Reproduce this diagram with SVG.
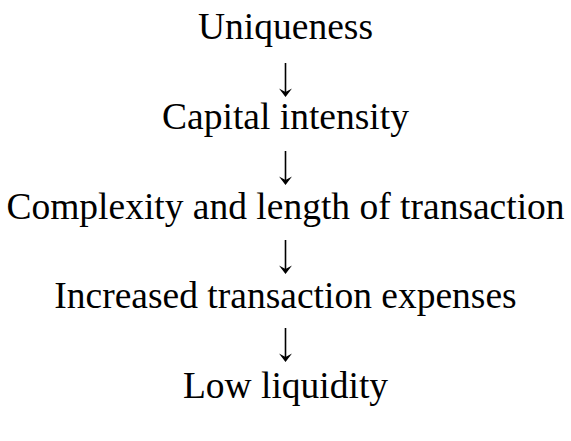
<svg xmlns="http://www.w3.org/2000/svg" width="571" height="441" viewBox="0 0 571 441">
  <style>
    text { font-family: "Liberation Serif", "Times New Roman", serif; font-size: 37.5px; fill: #000; text-anchor: middle; }
    .shaft { stroke: #000; stroke-width: 1.6; fill: none; }
    .head { fill: #000; stroke: none; }
  </style>
  <defs>
    <!-- downward arrow: thin shaft with a notched solid head, tip at (0,0) -->
    <g id="down-arrow">
      <line class="shaft" x1="0" y1="-34" x2="0" y2="-3"/>
      <path class="head" d="M0,0 L-6.5,-8.5 L0,-5 L6.5,-8.5 Z"/>
    </g>
  </defs>
  <rect width="571" height="441" fill="#fff"/>
  <g id="uniqueness"><text x="285.5" y="39">Uniqueness</text></g>
  <g id="capital-intensity"><text x="285.5" y="129">Capital intensity</text></g>
  <g id="complexity"><text x="285.5" y="219">Complexity and length of transaction</text></g>
  <g id="expenses"><text x="285.5" y="308">Increased transaction expenses</text></g>
  <g id="low-liquidity"><text x="285.5" y="398">Low liquidity</text></g>
  <g id="connectors">
    <use href="#down-arrow" x="285.5" y="97"/>
    <use href="#down-arrow" x="285.5" y="185"/>
    <use href="#down-arrow" x="285.5" y="274"/>
    <use href="#down-arrow" x="285.5" y="362"/>
  </g>
</svg>
